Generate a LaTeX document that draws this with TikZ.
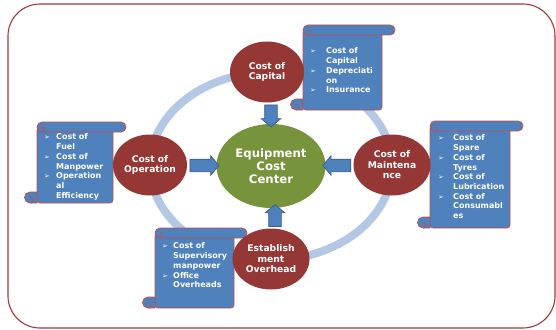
\documentclass[tikz,border=0pt]{standalone}
\usepackage{fontspec}
\setmainfont{DejaVu Sans}
\usetikzlibrary{shapes.geometric,shapes.arrows}

\definecolor{framered}{RGB}{165,55,55}
\definecolor{ringblue}{RGB}{180,199,228}
\definecolor{nodered}{RGB}{149,55,53}
\definecolor{nodegreen}{RGB}{119,147,60}
\definecolor{scrollblue}{RGB}{79,129,189}
\definecolor{scrolledge}{RGB}{192,80,77}
\definecolor{arrowedge}{RGB}{56,93,138}

\tikzset{
  costnode/.style={ellipse, fill=nodered, text=white, minimum width=74pt, minimum height=61pt, inner sep=0pt, align=center, font=\bfseries\fontsize{9.2}{10.5}\selectfont},
  centrenode/.style={ellipse, fill=nodegreen, text=white, minimum width=109pt, minimum height=84pt, inner sep=0pt, align=center, font=\bfseries\fontsize{11.7}{13}\selectfont},
  scrollbody/.style={fill=scrollblue, draw=scrolledge, line width=0.8pt},
  scrolltext/.style={anchor=north west, inner sep=0pt, text=white, font=\bfseries\fontsize{8}{9.7}\selectfont},
  blockarrow/.style={single arrow, fill=scrollblue, draw=arrowedge, line width=0.7pt, inner sep=6pt, single arrow head extend=3.5pt, single arrow tip angle=100}
}

\newcommand{\scrollbullet}{{\normalfont\fontsize{7}{9.7}\selectfont ➢}}
% scroll: left, top, right, bottom of the body
\newcommand{\drawscroll}[4]{%
  \filldraw[scrollbody, rounded corners=3pt] (#1,#2+5) rectangle (#3,#4);
  \filldraw[scrollbody, rounded corners=5pt] (#1,#2) rectangle (#3+13,#2+10);
  \draw[scrolledge, line width=0.8pt] (#1+5,#2+10) arc[start angle=-90, end angle=90, radius=2.5pt];
  \filldraw[scrollbody] (#1,#4) -- (#1-7,#4) arc[start angle=270, end angle=90, radius=5.5pt] -- (#1,#4-11) -- cycle;
  \draw[scrolledge, line width=0.8pt] (#1-7,#4-5.5) arc[start angle=90, end angle=-90, radius=2.75pt];
}

\begin{document}
\begin{tikzpicture}[x=1pt,y=-1pt]
\useasboundingbox (0,0) rectangle (556,329);
\draw[framered, line width=1.1pt, rounded corners=32pt] (8,4) rectangle (555,328);
\draw[ringblue, line width=8pt] (271,166) ellipse (121pt and 94pt);

% scrolls
\drawscroll{303}{25}{382}{110}
\drawscroll{37}{122}{113}{203}
\drawscroll{430}{121}{510}{228}
\drawscroll{155}{228}{234}{308}

\node[scrolltext] (captext) at (310,47) {\begin{tabular}{@{}p{16pt}@{}l@{}}
\scrollbullet & Cost of\\ & Capital\\ \scrollbullet & Depreciati\\ & on\\ \scrollbullet & Insurance
\end{tabular}};
\node[scrolltext] (optext) at (44,133) {\begin{tabular}{@{}p{12pt}@{}l@{}}
\scrollbullet & Cost of\\ & Fuel\\ \scrollbullet & Cost of\\ & Manpower\\ \scrollbullet & Operation\\ & al\\ & Efficiency
\end{tabular}};
\node[scrolltext] (mainttext) at (438,134) {\begin{tabular}{@{}p{15pt}@{}l@{}}
\scrollbullet & Cost of\\ & Spare\\ \scrollbullet & Cost of\\ & Tyres\\ \scrollbullet & Cost of\\ & Lubrication\\ \scrollbullet & Cost of\\ & Consumabl\\ & es
\end{tabular}};
\node[scrolltext] (esttext) at (162,242) {\begin{tabular}{@{}p{11pt}@{}l@{}}
\scrollbullet & Cost of\\ & Supervisory\\ & manpower\\ \scrollbullet & Office\\ & Overheads
\end{tabular}};

% ellipses
\node[centrenode] (ecc) at (271,166) {Equipment\\Cost\\Center};
\node[costnode] (cap) at (267,72) {Cost of\\Capital};
\node[costnode] (op) at (150,165) {Cost of\\Operation};
\node[costnode, minimum width=77pt] (maint) at (392,165) {Cost of\\Maintena\\nce};
\node[costnode, minimum width=77pt] (est) at (271,259) {Establish\\ment\\Overhead};

% block arrows
\path (cap.south -| ecc.north) -- (ecc.north) node[midway, blockarrow, minimum height=22pt, shape border rotate=270] (arrcap) {};
\path (op.east) -- (ecc.west) node[midway, blockarrow, minimum height=29pt, shape border rotate=0] (arrop) {};
\path (maint.west) -- (ecc.east) node[midway, blockarrow, minimum height=28pt, shape border rotate=180] (arrmaint) {};
\path (est.north) -- (ecc.south) node[midway, blockarrow, minimum height=22pt, shape border rotate=90, xshift=4pt] (arrest) {};
\end{tikzpicture}
\end{document}
